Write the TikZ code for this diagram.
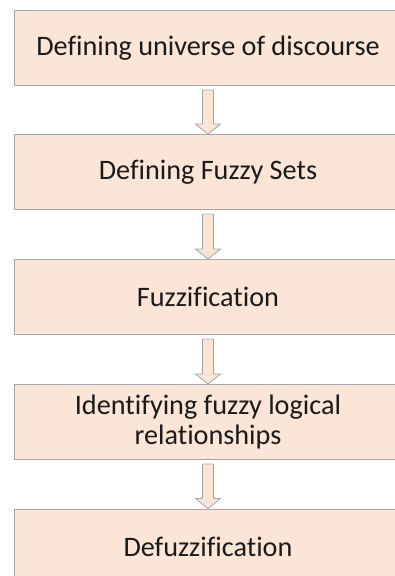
\documentclass[tikz,border=0pt]{standalone}
\usepackage{fontspec}
\setmainfont[Ligatures=CommonOff]{Carlito}
\usetikzlibrary{calc}
\definecolor{boxfill}{HTML}{FBE5D6}
\definecolor{boxline}{HTML}{A6A6A6}
\definecolor{txt}{HTML}{1A1A1A}
\tikzset{
  stepbox/.style={draw=boxline, line width=1pt, fill=boxfill, minimum width=388pt, minimum height=75pt,
    inner sep=0pt, align=center, text=txt, font=\fontsize{28.2}{30}\selectfont},
  barrow/.style={draw=boxline, line width=0.8pt, fill=boxfill}
}
\newcommand{\blockarrow}[2]{%
  \draw[barrow] let \p1=(#1.south), \p2=(#2.north) in
    (\x1-5.5pt,\y1-4pt) -- (\x1+5.5pt,\y1-4pt) -- (\x1+5.5pt,\y2+10pt) -- (\x1+12.5pt,\y2+10pt)
    -- (\x1,\y2) -- (\x1-12.5pt,\y2+10pt) -- (\x1-5.5pt,\y2+10pt) -- cycle;}
\begin{document}
\begin{tikzpicture}[x=1pt,y=1pt]
\useasboundingbox (0,0) rectangle (395,-576);
\clip (0,0) rectangle (395,-576);
\node[stepbox] (b1) at (208,-48) {Defining universe of discourse};
\node[stepbox] (b2) at (208,-172) {Defining Fuzzy Sets};
\node[stepbox] (b3) at (208,-297) {Fuzzification};
\node[stepbox] (b4) at (208,-422) {Identifying fuzzy logical\\relationships};
\node[stepbox] (b5) at (208,-546.5) {Defuzzification};
\blockarrow{b1}{b2}
\blockarrow{b2}{b3}
\blockarrow{b3}{b4}
\blockarrow{b4}{b5}
\end{tikzpicture}
\end{document}
